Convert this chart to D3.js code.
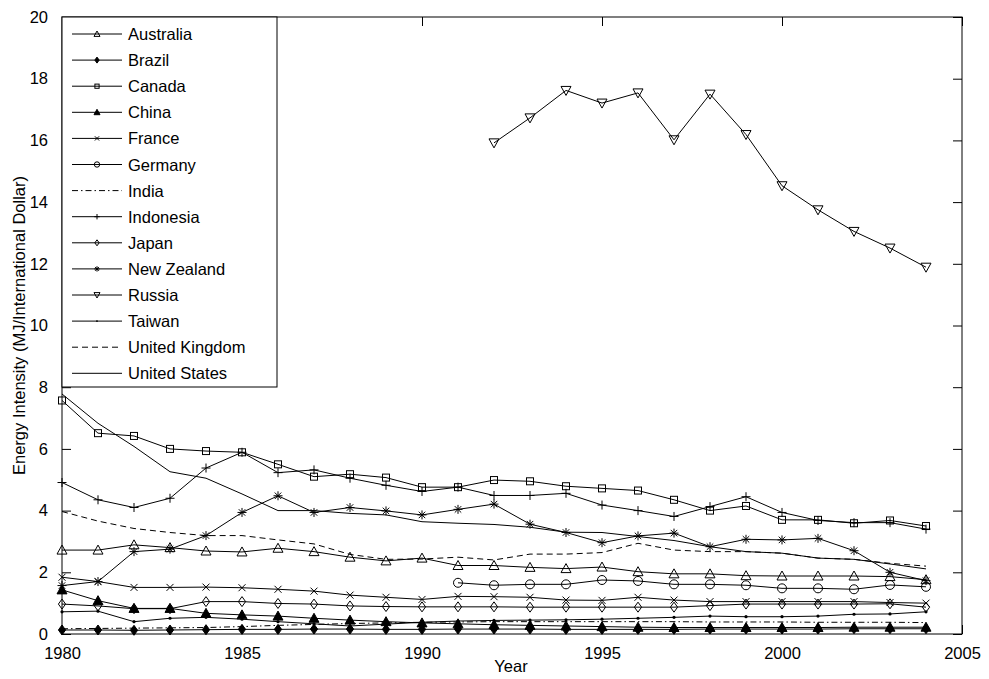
<!DOCTYPE html>
<html>
<head>
<meta charset="utf-8">
<script src="https://cdn.jsdelivr.net/npm/d3@7"></script>
<style>
  html, body { margin: 0; padding: 0; background: #fff; }
  svg { display: block; font-family: "Liberation Sans", Arial, Helvetica, sans-serif; }
</style>
</head>
<body>
<svg id="chart" width="989" height="679"></svg>
<script>
// Energy intensity by country, 1980-2004 (MJ per international dollar)
const years = d3.range(1980, 2005);

const australia = [2.72,2.72,2.89,2.80,2.69,2.66,2.78,2.67,2.49,2.37,2.46,2.22,2.22,2.16,2.12,2.17,2.02,1.95,1.95,1.89,1.88,1.88,1.88,1.86,1.76];
const brazil    = [0.13,0.13,0.12,0.13,0.14,0.15,0.15,0.16,0.16,0.15,0.15,0.16,0.16,0.16,0.15,0.15,0.15,0.15,0.16,0.16,0.16,0.16,0.17,0.17,0.17];
const canada    = [7.57,6.51,6.42,6.00,5.93,5.89,5.50,5.10,5.18,5.07,4.76,4.76,4.99,4.95,4.79,4.72,4.65,4.35,4.00,4.15,3.70,3.70,3.59,3.68,3.50];
const china     = [1.43,1.08,0.83,0.83,0.67,0.62,0.58,0.51,0.45,0.40,0.36,0.33,0.30,0.28,0.26,0.24,0.22,0.21,0.21,0.21,0.21,0.21,0.22,0.22,0.22];
const france    = [1.84,1.70,1.51,1.51,1.52,1.50,1.45,1.39,1.26,1.19,1.12,1.22,1.21,1.19,1.10,1.09,1.19,1.10,1.05,1.05,1.05,1.05,1.05,1.02,1.00];
const germany   = [null,null,null,null,null,null,null,null,null,null,null,1.66,1.58,1.61,1.61,1.75,1.72,1.61,1.61,1.58,1.48,1.48,1.45,1.59,1.53];
const india     = [0.17,0.18,0.19,0.20,0.21,0.24,0.28,0.31,0.34,0.36,0.38,0.39,0.40,0.40,0.40,0.40,0.40,0.40,0.39,0.39,0.39,0.38,0.38,0.38,0.37];
const indonesia = [4.91,4.35,4.10,4.40,5.38,5.89,5.23,5.32,5.05,4.82,4.62,4.76,4.49,4.49,4.56,4.18,4.00,3.81,4.13,4.45,3.94,3.68,3.61,3.61,3.40];
const japan     = [0.97,0.91,0.82,0.82,1.05,1.05,0.99,0.97,0.91,0.89,0.88,0.88,0.88,0.87,0.87,0.87,0.87,0.87,0.92,0.97,0.97,0.97,0.97,0.98,0.87];
const newZealand= [1.57,1.70,2.67,2.75,3.19,3.94,4.48,3.94,4.10,3.99,3.86,4.04,4.21,3.56,3.29,2.96,3.18,3.27,2.83,3.07,3.05,3.10,2.70,2.00,1.73];
const russia    = [null,null,null,null,null,null,null,null,null,null,null,null,15.92,16.73,17.62,17.21,17.54,16.02,17.50,16.19,14.53,13.75,13.05,12.51,11.89];
const taiwan    = [0.72,0.74,0.40,0.51,0.54,0.48,0.40,0.33,0.26,0.32,0.38,0.42,0.44,0.45,0.46,0.48,0.51,0.54,0.58,0.56,0.56,0.58,0.64,0.65,0.72];
const unitedKingdom = [3.97,3.66,3.42,3.29,3.19,3.19,3.05,2.92,2.58,2.42,2.43,2.49,2.40,2.59,2.59,2.64,2.94,2.72,2.67,2.67,2.62,2.46,2.42,2.29,2.20];
const unitedStates  = [7.78,6.83,6.08,5.26,5.05,4.54,4.00,4.00,3.91,3.86,3.64,3.59,3.55,3.46,3.30,3.29,3.16,3.03,2.83,2.67,2.62,2.46,2.42,2.27,2.11];

const countryNames = ["Australia","Brazil","Canada","China","France","Germany","India","Indonesia","Japan","New Zealand","Russia","Taiwan","United Kingdom","United States"];
const countryValues = [australia,brazil,canada,china,france,germany,india,indonesia,japan,newZealand,russia,taiwan,unitedKingdom,unitedStates];
const countryMarkers = ["triUp","diamondFilled","square","triUpFilled","cross","circle","none","plus","diamond","star","triDown","dot","none","none"];
const countryDash = ["","","","","","","6,3,1.5,3","","","","","","6,4",""];

const xTicks = [1980,1985,1990,1995,2000,2005];
const yTicks = [0,2,4,6,8,10,12,14,16,18,20];

const W = 989, H = 679;
const m = {left: 62, top: 17, right: 27, bottom: 45};
const pw = W - m.left - m.right, ph = H - m.top - m.bottom;
const fontSize = "16.5px";

const svg = d3.select("#chart");
const x = d3.scaleLinear().domain([1980, 2005]).range([m.left, m.left + pw]);
const y = d3.scaleLinear().domain([0, 20]).range([m.top + ph, m.top]);

// marker drawing: appends a shape centred at (cx, cy) with scale k
function marker(g, type, cx, cy, k) {
  const stroke = "#000", sw = 1;
  switch (type) {
    case "triUp":
    case "triUpFilled": {
      const h = 5 * k;
      g.append("path").attr("d", `M${cx},${cy - h}L${cx + h},${cy + h * 0.8}L${cx - h},${cy + h * 0.8}Z`)
        .attr("fill", type === "triUpFilled" ? "#000" : "none").attr("stroke", stroke).attr("stroke-width", sw);
      break;
    }
    case "triDown": {
      const h = 5 * k;
      g.append("path").attr("d", `M${cx},${cy + h}L${cx + h},${cy - h * 0.8}L${cx - h},${cy - h * 0.8}Z`)
        .attr("fill", "none").attr("stroke", stroke).attr("stroke-width", sw);
      break;
    }
    case "diamond":
    case "diamondFilled": {
      const h = 5 * k, w = 3.6 * k;
      g.append("path").attr("d", `M${cx},${cy - h}L${cx + w},${cy}L${cx},${cy + h}L${cx - w},${cy}Z`)
        .attr("fill", type === "diamondFilled" ? "#000" : "none").attr("stroke", stroke).attr("stroke-width", sw);
      break;
    }
    case "square": {
      const h = 3.5 * k;
      g.append("rect").attr("x", cx - h).attr("y", cy - h).attr("width", 2 * h).attr("height", 2 * h)
        .attr("fill", "none").attr("stroke", stroke).attr("stroke-width", sw);
      break;
    }
    case "circle":
      g.append("circle").attr("cx", cx).attr("cy", cy).attr("r", 4.5 * k)
        .attr("fill", "none").attr("stroke", stroke).attr("stroke-width", sw);
      break;
    case "cross": {
      const h = 3.5 * k;
      g.append("path").attr("d", `M${cx - h},${cy - h}L${cx + h},${cy + h}M${cx - h},${cy + h}L${cx + h},${cy - h}`)
        .attr("stroke", stroke).attr("stroke-width", sw);
      break;
    }
    case "plus": {
      const h = 4.5 * k;
      g.append("path").attr("d", `M${cx - h},${cy}L${cx + h},${cy}M${cx},${cy - h}L${cx},${cy + h}`)
        .attr("stroke", stroke).attr("stroke-width", sw);
      break;
    }
    case "star": {
      const h = 4.5 * k, d = h * 0.72;
      g.append("path").attr("d", `M${cx - h},${cy}L${cx + h},${cy}M${cx},${cy - h}L${cx},${cy + h}M${cx - d},${cy - d}L${cx + d},${cy + d}M${cx - d},${cy + d}L${cx + d},${cy - d}`)
        .attr("stroke", stroke).attr("stroke-width", sw);
      break;
    }
    case "dot":
      g.append("circle").attr("cx", cx).attr("cy", cy).attr("r", 1.6 * k).attr("fill", "#000");
      break;
  }
}

svg.append("rect").attr("x", m.left).attr("y", m.top).attr("width", pw).attr("height", ph).attr("fill", "#fff");

const line = d3.line()
  .defined(d => d.v != null)
  .x(d => x(d.year))
  .y(d => y(d.v));

const plot = svg.append("g");
countryNames.forEach((name, i) => {
  const pts = years.map((yr, j) => ({year: yr, v: countryValues[i][j]}));
  const g = plot.append("g").attr("class", "series");
  g.append("path").datum(pts).attr("d", line)
    .attr("fill", "none").attr("stroke", "#000").attr("stroke-width", 1)
    .attr("stroke-dasharray", countryDash[i] || null);
  if (countryMarkers[i] !== "none") {
    pts.filter(p => p.v != null).forEach(p => marker(g, countryMarkers[i], x(p.year), y(p.v), 1));
  }
});

// axes with inward ticks on all four sides
const tickLen = 9;
const axB = d3.axisBottom(x).tickValues(xTicks).tickFormat(d3.format("d")).tickSizeInner(-tickLen).tickSizeOuter(0).tickPadding(tickLen + 4);
const axT = d3.axisTop(x).tickValues(xTicks).tickFormat("").tickSizeInner(-tickLen).tickSizeOuter(0);
const axL = d3.axisLeft(y).tickValues(yTicks).tickFormat(d3.format("d")).tickSizeInner(-tickLen).tickSizeOuter(0).tickPadding(tickLen + 5);
const axR = d3.axisRight(y).tickValues(yTicks).tickFormat("").tickSizeInner(-tickLen).tickSizeOuter(0);

function styleAxis(g) {
  g.select(".domain").remove();
  g.selectAll("line").attr("stroke", "#000");
  g.selectAll("text").attr("fill", "#000").style("font-size", fontSize).style("font-family", "Liberation Sans, Arial, sans-serif");
}
svg.append("g").attr("transform", `translate(0,${m.top + ph})`).call(axB).call(styleAxis);
svg.append("g").attr("transform", `translate(0,${m.top})`).call(axT).call(styleAxis);
svg.append("g").attr("transform", `translate(${m.left},0)`).call(axL).call(styleAxis);
svg.append("g").attr("transform", `translate(${m.left + pw},0)`).call(axR).call(styleAxis);

svg.append("rect").attr("x", m.left).attr("y", m.top).attr("width", pw).attr("height", ph)
  .attr("fill", "none").attr("stroke", "#000").attr("stroke-width", 1);

// axis titles
svg.append("text").attr("x", m.left + pw / 2 - 1).attr("y", 672).attr("text-anchor", "middle")
  .style("font-size", fontSize).text("Year");
svg.append("text").attr("transform", `translate(25,${m.top + ph / 2}) rotate(-90)`).attr("text-anchor", "middle")
  .style("font-size", fontSize).text("Energy Intensity (MJ/International Dollar)");

// legend
const lg = svg.append("g");
const lgX = m.left, lgY = m.top, lgW = 215, rowH = 26.1;
lg.append("rect").attr("x", lgX).attr("y", lgY).attr("width", lgW).attr("height", 370)
  .attr("fill", "#fff").attr("stroke", "#000").attr("stroke-width", 1);
countryNames.forEach((name, i) => {
  const cy = lgY + 17 + i * rowH;
  lg.append("line").attr("x1", lgX + 10).attr("x2", lgX + 60).attr("y1", cy).attr("y2", cy)
    .attr("stroke", "#000").attr("stroke-width", 1).attr("stroke-dasharray", countryDash[i] || null);
  if (countryMarkers[i] !== "none") marker(lg, countryMarkers[i], lgX + 35, cy, 0.6);
  lg.append("text").attr("x", lgX + 66).attr("y", cy + 6).style("font-size", fontSize).text(name);
});
</script>
</body>
</html>
